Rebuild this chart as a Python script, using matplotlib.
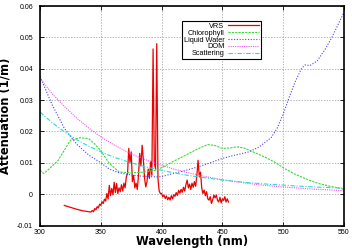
import numpy as np
import matplotlib
matplotlib.use("Agg")
from matplotlib import pyplot as plt

# Chlorophyll absorption (green)
chl_wl = [300, 303, 308, 315, 320, 325, 333, 340, 345, 350, 357, 365, 375, 385, 395,
          402, 409, 420, 430, 438, 444, 450, 456, 462, 468, 475, 485, 494, 501, 510,
          521, 530, 540, 550]
chl_val = [0.0076, 0.0066, 0.0082, 0.0108, 0.0140, 0.0172, 0.0180, 0.0177, 0.0160, 0.0138,
           0.0098, 0.0071, 0.0068, 0.0070, 0.0076, 0.0088, 0.0103, 0.0125, 0.0145, 0.0158,
           0.0155, 0.0146, 0.0147, 0.0151, 0.0147, 0.0135, 0.0118, 0.0100, 0.0082, 0.0063,
           0.0045, 0.0033, 0.0024, 0.0016]

# Liquid water absorption (blue)
water_wl = [300, 310, 320, 330, 340, 350, 357, 365, 375, 385, 395, 400, 410, 420, 430,
            440, 450, 460, 472, 480, 490, 495, 500, 505, 510, 515, 518, 522, 528, 535,
            540, 545, 550]
water_val = [0.0375, 0.0285, 0.0210, 0.0160, 0.0125, 0.0100, 0.0080, 0.0068, 0.0061, 0.0057,
             0.0055, 0.0056, 0.0066, 0.0076, 0.0087, 0.0100, 0.0114, 0.0124, 0.0135, 0.0150,
             0.0180, 0.0210, 0.0255, 0.0310, 0.0360, 0.0400, 0.0412, 0.0410, 0.0425, 0.0465,
             0.0500, 0.0540, 0.0580]

# Dissolved organic matter (magenta)
dom_wl = list(range(300, 551, 10))
dom_val = [0.0370, 0.0320, 0.0280, 0.0243, 0.0211, 0.0183, 0.0159, 0.0138, 0.0120, 0.0105,
           0.0092, 0.0080, 0.0070, 0.0061, 0.0053, 0.0046, 0.0040, 0.0035, 0.0030, 0.0026,
           0.0023, 0.0020, 0.0017, 0.0015, 0.0013, 0.0011]

# Scattering (cyan)
sca_wl = list(range(300, 551, 10))
sca_val = [0.0262, 0.0228, 0.0199, 0.0174, 0.0153, 0.0135, 0.0119, 0.0106, 0.0094, 0.0084,
           0.0076, 0.0068, 0.0061, 0.0055, 0.0050, 0.0045, 0.0041, 0.0037, 0.0034, 0.0031,
           0.0029, 0.0026, 0.0024, 0.0022, 0.0021, 0.0019]

# VRS (red), values in 1e-3 1/m
vrs_wl = [320, 325, 330, 335, 340] + list(range(342, 456))
vrs_milli = [-3.6, -4.2, -4.8, -5.3, -5.6,
             -5.7, -5.2, -5.6, -4.6, -5.0, -4.0, -4.4, -3.2, -3.6, -2.4,
             -3.0, -1.6, -2.2, 0.2, -1.5, 2.8, -0.5, 1.8, -0.2, 3.8,
             0.5, 3.4, 0.2, 2.0, 0.8, 3.0, 1.0, 3.5, 2.0, 5.5,
             6.6, 14.6, 10.0, 13.5, 4.0, 6.0, 2.0, 3.5, 1.5, 6.0,
             13.0, 9.0, 15.6, 11.0, 5.0, 2.3, 4.0, 8.0, 5.0, 10.5,
             6.0, 46.3, 10.0, 8.0, 48.0, 5.0, 1.0, 0.2, 0.2, -0.8,
             -0.3, -1.4, -0.6, -1.8, -1.0, -1.9, -0.5, -1.5, -0.2, -0.7,
             0.5, -0.4, 1.2, 0.3, 1.5, 0.6, 2.2, 1.0, 3.0, 4.5,
             2.0, 3.2, 1.5, 3.5, 2.2, 4.0, 2.5, 6.0, 10.8, 5.5,
             7.0, 2.0, 0.2, 1.3, -0.5, 0.8, -1.5, -1.9, -0.8, -3.0,
             -1.8, -0.3, -1.2, -0.3, -2.0, -2.5, -1.0, -2.8, -1.5, -2.0,
             -0.8, -2.5, -1.5, -2.5]
vrs_val = np.array(vrs_milli) * 1e-3

x_ticks = [300, 350, 400, 450, 500, 550]
y_ticks = [-0.01, 0, 0.01, 0.02, 0.03, 0.04, 0.05, 0.06]
y_tick_labels = ["-0.01", "0", "0.01", "0.02", "0.03", "0.04", "0.05", "0.06"]

fig = plt.figure(figsize=(3.52, 2.49), dpi=100)
ax = fig.add_axes([40 / 352, 1 - 225.5 / 249, 304 / 352, 219.5 / 249])

ax.plot(vrs_wl, vrs_val, color="#ee0000", lw=0.9, label="VRS")
ax.plot(chl_wl, chl_val, color="#33dd33", lw=0.8, ls=(0, (2, 1)), label="Chlorophyll")
ax.plot(water_wl, water_val, color="#4444ee", lw=0.8, ls=(0, (1, 1.5)), label="Liquid Water")
ax.plot(dom_wl, dom_val, color="#ee55ee", lw=0.8, ls=(0, (1, 1)), label="DOM")
ax.plot(sca_wl, sca_val, color="#22dddd", lw=0.8, ls=(0, (4, 1.5, 1, 1.5)), label="Scattering")

ax.set_xlim(300, 550)
ax.set_ylim(-0.01, 0.06)
ax.set_xticks(x_ticks)
ax.set_yticks(y_ticks)
ax.set_yticklabels(y_tick_labels)
ax.tick_params(direction="in", labelsize=5, length=3, width=0.6, top=True, right=True)
ax.tick_params(axis="x", pad=2.5)
ax.tick_params(axis="y", pad=5)
for lab in ax.get_xticklabels() + ax.get_yticklabels():
    lab.set_family("Liberation Sans")
ax.grid(True, color="#999999", lw=0.5, ls=(0, (2, 2)))
for sp in ax.spines.values():
    sp.set_linewidth(1.2)

ax.set_xlabel("Wavelength (nm)", fontsize=8.3, fontweight="bold", labelpad=-0.5)
ax.set_ylabel("Attenuation (1/m)", fontsize=8.3, fontweight="bold", labelpad=4)

leg = ax.legend(loc="upper left", bbox_to_anchor=(181.7 / 352, 1 - 21 / 249),
                bbox_transform=fig.transFigure, markerfirst=False,
                prop={"family": "Liberation Sans", "size": 5.3},
                frameon=True, fancybox=False, edgecolor="black", framealpha=1,
                handlelength=4.2, handletextpad=0.5, labelspacing=-0.05,
                borderpad=0.25, borderaxespad=0)
leg.get_frame().set_linewidth(0.8)

fig.savefig("out.png", dpi=100)
